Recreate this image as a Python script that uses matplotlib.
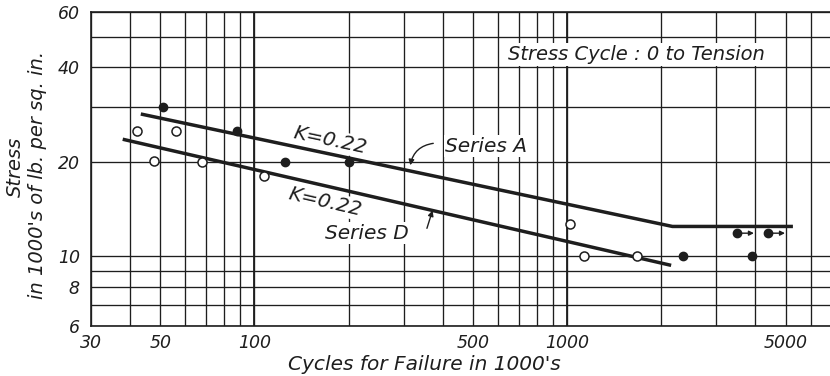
import matplotlib
matplotlib.use("Agg")
import matplotlib.pyplot as plt
from matplotlib.ticker import FixedLocator, FixedFormatter, NullFormatter

plt.rcParams['font.family'] = ['DejaVu Sans']
plt.rcParams['font.style'] = 'italic'

# Series A (solid points), cycles in 1000's, stress in 1000's psi
a_cycles = [51, 88, 125, 200, 2350, 3900]
a_stress = [30.0, 25.0, 20.0, 20.0, 10.0, 10.0]
# Series A run-outs (did not fail)
a_run_cycles = [3500, 4400]
a_run_stress = [11.85, 11.85]

# Series D (open points)
d_cycles = [42, 47.6, 56, 68, 107, 1020, 1130, 1670]
d_stress = [25.0, 20.1, 25.0, 20.0, 18.0, 12.65, 10.0, 10.0]

# fitted lines
a_line_x = [43.3, 2170, 5270]
a_line_y = [28.4, 12.45, 12.45]
d_line_x = [37.9, 2150]
d_line_y = [23.6, 9.36]

x_major = [30, 50, 100, 500, 1000, 5000]
x_minor = [40, 60, 70, 80, 90, 200, 300, 400, 600, 700, 800, 900,
           2000, 3000, 4000, 6000]
y_major = [6, 8, 10, 20, 40, 60]
y_minor = [7, 9, 30, 50]

ink = '#1e1e1e'

fig = plt.figure(figsize=(8.3, 3.76), dpi=100)
ax = fig.add_axes([0.1096, 0.133, 0.8904, 0.8351])
ax.set_xscale('log')
ax.set_yscale('log')
ax.set_xlim(30, 6925)
ax.set_ylim(6, 60)

ax.xaxis.set_major_locator(FixedLocator(x_major))
ax.xaxis.set_major_formatter(FixedFormatter([str(v) for v in x_major]))
ax.xaxis.set_minor_locator(FixedLocator(x_minor))
ax.xaxis.set_minor_formatter(NullFormatter())
ax.yaxis.set_major_locator(FixedLocator(y_major))
ax.yaxis.set_major_formatter(FixedFormatter([str(v) for v in y_major]))
ax.yaxis.set_minor_locator(FixedLocator(y_minor))
ax.yaxis.set_minor_formatter(NullFormatter())

ax.tick_params(which='both', length=0, colors=ink, labelsize=12.5)
ax.tick_params(axis='x', pad=6)
ax.tick_params(axis='y', pad=8)
ax.grid(which='both', color=ink, linewidth=0.95)
for v in [100, 1000]:
    ax.axvline(v, color=ink, linewidth=1.3, zorder=0.6)
ax.set_axisbelow(True)

for s in ['left', 'bottom', 'top']:
    ax.spines[s].set_color(ink)
    ax.spines[s].set_linewidth(1.2)
ax.spines['right'].set_visible(False)

# lines
ax.plot(a_line_x, a_line_y, color=ink, linewidth=2.5, solid_capstyle='butt', zorder=3)
ax.plot(d_line_x, d_line_y, color=ink, linewidth=2.5, solid_capstyle='butt', zorder=3)

# points
ax.plot(a_cycles, a_stress, 'o', color=ink, markersize=6, zorder=4)
ax.plot(a_run_cycles, a_run_stress, 'o', color=ink, markersize=6, zorder=4)
ax.plot(d_cycles, d_stress, 'o', markerfacecolor='white', markeredgecolor=ink,
        markeredgewidth=1.1, markersize=6.5, zorder=4)
for x, y in zip(a_run_cycles, a_run_stress):
    ax.annotate('', xy=(x * 1.13, y), xytext=(x * 1.03, y),
                arrowprops=dict(arrowstyle='-|>', color=ink, lw=1.0,
                                mutation_scale=7, shrinkA=0, shrinkB=0),
                zorder=4)

box = dict(facecolor='white', edgecolor='none', pad=1.0)
ax.text(174, 23.4, 'K=0.22', fontsize=14.5, rotation=-12, ha='center', va='center',
        color=ink, bbox=box, zorder=2)
ax.text(168, 14.9, 'K=0.22', fontsize=14.5, rotation=-13, ha='center', va='center',
        color=ink, bbox=box, zorder=2)
ax.text(551, 22.4, 'Series A', fontsize=14.5, ha='center', va='center',
        color=ink, bbox=box, zorder=2)
ax.text(228, 11.84, 'Series D', fontsize=14.5, ha='center', va='center',
        color=ink, bbox=box, zorder=2)
ax.text(1662, 44.0, 'Stress Cycle : 0 to Tension', fontsize=14, ha='center',
        va='center', color=ink, bbox=dict(facecolor='white', edgecolor='none', pad=1.5),
        zorder=2)

ax.annotate('', xy=(315, 19.5), xytext=(373, 22.9),
            arrowprops=dict(arrowstyle='-|>', color=ink, lw=1.0, mutation_scale=8,
                            shrinkA=0, shrinkB=0, connectionstyle='arc3,rad=0.35'),
            zorder=3)
ax.annotate('', xy=(371, 14.0), xytext=(356, 12.28),
            arrowprops=dict(arrowstyle='-|>', color=ink, lw=1.0, mutation_scale=8,
                            shrinkA=0, shrinkB=0),
            zorder=3)

fig.text(0.511, 0.03, "Cycles for Failure in 1000's", fontsize=14.5, ha='center',
         va='center', color=ink)
fig.text(0.018, 0.555, 'Stress', fontsize=14, rotation=90, ha='center',
         va='center', color=ink)
fig.text(0.045, 0.535, "in 1000's of lb. per sq. in.", fontsize=14, rotation=90,
         ha='center', va='center', color=ink)

fig.savefig('out.png', dpi=100)
